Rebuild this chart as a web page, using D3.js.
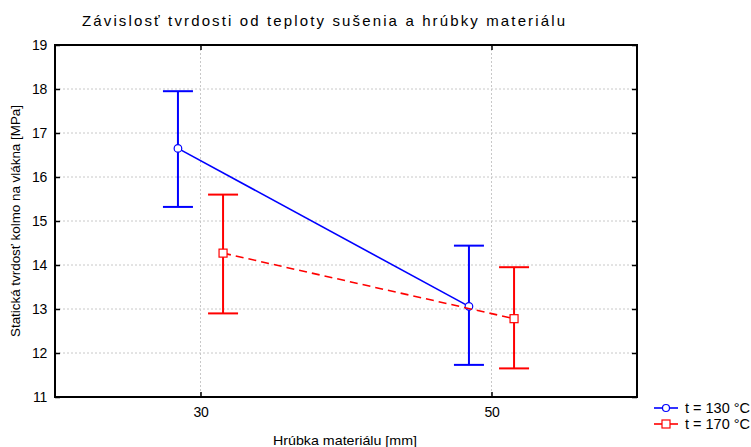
<!DOCTYPE html>
<meta charset="utf-8">
<script src="https://d3js.org/d3.v7.min.js"></script>
<style>
  body { margin: 0; background: #fff; }
  text { font-family: "Liberation Sans", Arial, sans-serif; fill: #000; }
</style>
<div id="my_dataviz"></div>
<script>

// data
var thickness = [30, 50];                       // hrúbka materiálu [mm]
var meanT130 = [16.65, 13.06];
var lowT130  = [15.32, 11.73];
var highT130 = [17.95, 14.44];
var meanT170 = [14.27, 12.78];
var lowT170  = [12.90, 11.65];
var highT170 = [15.60, 13.95];
var yTicks = [11, 12, 13, 14, 15, 16, 17, 18, 19];
var xTicks = [30, 50];

var width = 751, height = 447;
var plotL = 55, plotT = 45, plotR = 637, plotB = 397;

var svg = d3.select("#my_dataviz")
  .append("svg")
  .attr("width", width)
  .attr("height", height);

var x = d3.scaleLinear().domain([20, 60]).range([plotL, plotR]);
var y = d3.scaleLinear().domain([11, 19]).range([plotB, plotT]);

// grid
svg.selectAll(".hgrid")
  .data(yTicks.slice(1, -1))
  .enter().append("line")
  .attr("x1", plotL).attr("x2", plotR)
  .attr("y1", d => y(d)).attr("y2", d => y(d))
  .attr("stroke", "#c8c8c8").attr("stroke-dasharray", "2,2");
svg.selectAll(".vgrid")
  .data(xTicks)
  .enter().append("line")
  .attr("x1", d => x(d)).attr("x2", d => x(d))
  .attr("y1", plotT).attr("y2", plotB)
  .attr("stroke", "#c8c8c8").attr("stroke-dasharray", "2,2");

// axes (ticks pointing inwards)
svg.append("g")
  .attr("transform", "translate(" + plotL + ",0)")
  .call(d3.axisLeft(y).tickValues(yTicks).tickSize(-5).tickPadding(8))
  .call(g => g.select(".domain").remove())
  .selectAll("text").style("font-size", "14px").style("letter-spacing", "-0.3px");
svg.append("g")
  .attr("transform", "translate(0," + plotB + ")")
  .call(d3.axisBottom(x).tickValues(xTicks).tickSize(-5).tickPadding(10))
  .call(g => g.select(".domain").remove())
  .selectAll("text").style("font-size", "14px").style("letter-spacing", "-0.3px");
svg.append("g")
  .attr("transform", "translate(0," + plotT + ")")
  .call(d3.axisTop(x).tickValues(xTicks).tickSize(-5).tickFormat(""))
  .call(g => g.select(".domain").remove());
svg.append("g")
  .attr("transform", "translate(" + plotR + ",0)")
  .call(d3.axisRight(y).tickValues(yTicks).tickSize(-5).tickFormat(""))
  .call(g => g.select(".domain").remove());
svg.selectAll(".tick line").attr("stroke", "#000").attr("stroke-width", 1.5);

// frame
svg.append("rect")
  .attr("x", plotL).attr("y", plotT)
  .attr("width", plotR - plotL).attr("height", plotB - plotT)
  .attr("fill", "none").attr("stroke", "#000").attr("stroke-width", 2);

// series
var offset = 1.55;
var series = [
  {name: "t = 130 °C", color: "#0000ff", dx: -offset, mean: meanT130, low: lowT130, high: highT130, dash: null, shape: "circle"},
  {name: "t = 170 °C", color: "#ff0000", dx: offset, mean: meanT170, low: lowT170, high: highT170, dash: "8,5", shape: "square"}
];
var cap = 15;

series.forEach(function(s) {
  var pts = thickness.map(function(t, i) {
    return {x: t + s.dx, m: s.mean[i], lo: s.low[i], hi: s.high[i]};
  });
  var g = svg.append("g");
  // error bars
  g.selectAll(".bar").data(pts).enter().append("line")
    .attr("x1", d => x(d.x)).attr("x2", d => x(d.x))
    .attr("y1", d => y(d.lo)).attr("y2", d => y(d.hi))
    .attr("stroke", s.color).attr("stroke-width", 2);
  g.selectAll(".capHi").data(pts).enter().append("line")
    .attr("x1", d => x(d.x) - cap).attr("x2", d => x(d.x) + cap)
    .attr("y1", d => y(d.hi)).attr("y2", d => y(d.hi))
    .attr("stroke", s.color).attr("stroke-width", 2);
  g.selectAll(".capLo").data(pts).enter().append("line")
    .attr("x1", d => x(d.x) - cap).attr("x2", d => x(d.x) + cap)
    .attr("y1", d => y(d.lo)).attr("y2", d => y(d.lo))
    .attr("stroke", s.color).attr("stroke-width", 2);
  // mean line
  g.append("path")
    .datum(pts)
    .attr("d", d3.line().x(d => x(d.x)).y(d => y(d.m)))
    .attr("fill", "none").attr("stroke", s.color).attr("stroke-width", 1.6)
    .attr("stroke-dasharray", s.dash);
  // markers
  if (s.shape == "circle") {
    g.selectAll(".mk").data(pts).enter().append("circle")
      .attr("cx", d => x(d.x)).attr("cy", d => y(d.m)).attr("r", 3.8)
      .attr("fill", "#fff").attr("stroke", s.color).attr("stroke-width", 1.2);
  } else {
    g.selectAll(".mk").data(pts).enter().append("rect")
      .attr("x", d => x(d.x) - 4).attr("y", d => y(d.m) - 4)
      .attr("width", 8).attr("height", 8)
      .attr("fill", "#fff").attr("stroke", s.color).attr("stroke-width", 1.2);
  }
});

// titles
svg.append("text")
  .attr("x", 82).attr("y", 26)
  .attr("textLength", 483).attr("lengthAdjust", "spacing")
  .style("font-size", "15px")
  .text("Závislosť tvrdosti od teploty sušenia a hrúbky materiálu");

svg.append("text")
  .attr("transform", "translate(20,337) rotate(-90)")
  .attr("textLength", 232).attr("lengthAdjust", "spacingAndGlyphs")
  .style("font-size", "13px")
  .text("Statická tvrdosť kolmo na vlákna  [MPa]");

svg.append("text")
  .attr("x", 273).attr("y", 445)
  .attr("textLength", 144).attr("lengthAdjust", "spacingAndGlyphs")
  .style("font-size", "13px")
  .text("Hrúbka materiálu [mm]");

// legend
var legend = svg.selectAll(".legend")
  .data(series)
  .enter().append("g")
  .attr("transform", (d, i) => "translate(654," + (408 + i * 16) + ")");
legend.append("line")
  .attr("x1", 0).attr("x2", 24)
  .attr("stroke", d => d.color).attr("stroke-width", 1.6);
legend.filter(d => d.shape == "circle").append("circle")
  .attr("cx", 12).attr("r", 3.5)
  .attr("fill", "#fff").attr("stroke", d => d.color).attr("stroke-width", 1.2);
legend.filter(d => d.shape == "square").append("rect")
  .attr("x", 8).attr("y", -4).attr("width", 8).attr("height", 8)
  .attr("fill", "#fff").attr("stroke", d => d.color).attr("stroke-width", 1.2);
legend.append("text")
  .attr("x", 31).attr("y", 5)
  .attr("textLength", 65).attr("lengthAdjust", "spacingAndGlyphs")
  .style("font-size", "14px")
  .text(d => d.name);

</script>
